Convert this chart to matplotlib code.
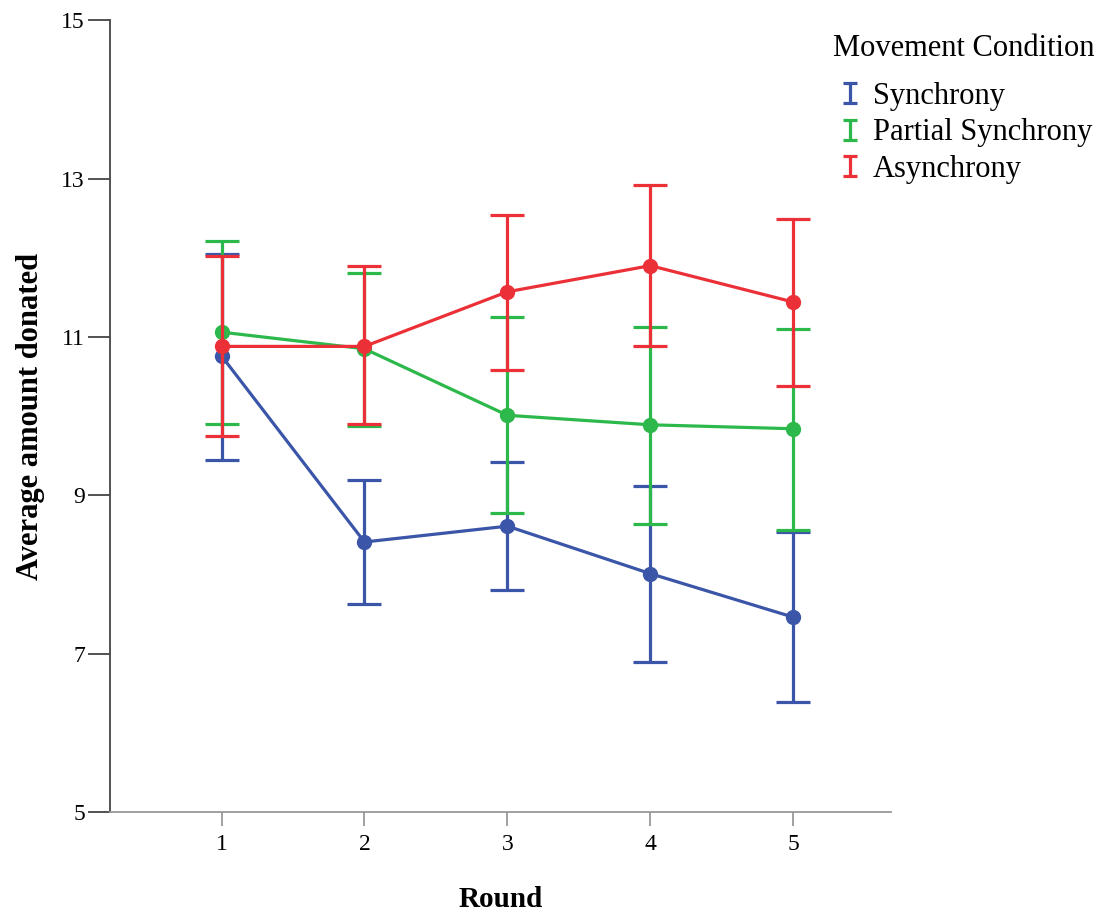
import numpy as np
import matplotlib
matplotlib.use("Agg")
import matplotlib.pyplot as plt
from matplotlib.path import Path
from matplotlib.lines import Line2D

plt.rcParams['font.family'] = ['Liberation Serif', 'DejaVu Serif']

# ---------------------------------------------------------
# Data
# ---------------------------------------------------------
rounds = [1, 2, 3, 4, 5]
conditions = ["Synchrony", "Partial Synchrony", "Asynchrony"]
colors = ["#3b56a8", "#2db84b", "#ec3038"]

sync_mean = [10.76, 8.41, 8.61, 8.01, 7.46]
sync_upper = [12.05, 9.19, 9.42, 9.12, 8.54]
sync_lower = [9.45, 7.63, 7.80, 6.90, 6.39]

partial_mean = [11.06, 10.85, 10.01, 9.89, 9.84]
partial_upper = [12.21, 11.81, 11.25, 11.13, 11.10]
partial_lower = [9.90, 9.88, 8.78, 8.64, 8.56]

async_mean = [10.88, 10.88, 11.57, 11.90, 11.44]
async_upper = [12.02, 11.89, 12.54, 12.92, 12.49]
async_lower = [9.75, 9.90, 10.58, 10.88, 10.38]

means = [sync_mean, partial_mean, async_mean]
uppers = [sync_upper, partial_upper, async_upper]
lowers = [sync_lower, partial_lower, async_lower]

# ---------------------------------------------------------
# Plot
# ---------------------------------------------------------
fig = plt.figure(figsize=(11.01, 9.17), dpi=100)
ax = fig.add_axes([0.0999, 0.1145, 0.709, 0.8635])

for i in range(3):
    m = np.array(means[i])
    yerr = [m - np.array(lowers[i]), np.array(uppers[i]) - m]
    ax.errorbar(rounds, m, yerr=yerr, fmt='-o', color=colors[i],
                lw=2.3, ms=10, elinewidth=2.3, capsize=12.5, capthick=2.3,
                zorder=2 + i)

# "I"-shaped legend marker (error bar with caps)
i_marker = Path(
    [(-0.7, -1), (0.7, -1), (0, -1), (0, 1), (-0.7, 1), (0.7, 1)],
    [Path.MOVETO, Path.LINETO, Path.MOVETO, Path.LINETO,
     Path.MOVETO, Path.LINETO]
)
handles = [Line2D([], [], ls='none', marker=i_marker, ms=15,
                  mec=c, mfc='none', mew=2.3) for c in colors]

fig.text(0.7566, 0.947, "Movement Condition", fontsize=22,
         ha='left', va='center')
fig.legend(handles, conditions,
           loc="upper left", bbox_to_anchor=(0.7584, 0.911),
           frameon=False, fontsize=22,
           handlelength=1.0, handletextpad=0.25, labelspacing=0.25,
           borderaxespad=0, borderpad=0)

ax.set_xlim(0.22, 5.68)
ax.set_ylim(5, 15)
ax.set_xticks(rounds)
ax.set_yticks([5, 7, 9, 11, 13, 15])

ax.spines['top'].set_visible(False)
ax.spines['right'].set_visible(False)
ax.spines['left'].set_color('#444444')
ax.spines['bottom'].set_color('#999999')
ax.spines['left'].set_linewidth(1.3)
ax.spines['bottom'].set_linewidth(1.3)

ax.tick_params(axis='y', length=16, width=1.3, color='#444444',
               labelsize=17, pad=2)
ax.tick_params(axis='x', length=10, width=1.3, color='#999999',
               labelsize=17, pad=6)

ax.set_xlabel("Round", fontsize=21, fontweight='bold', labelpad=22)
ax.set_ylabel("Average amount donated", fontsize=22, fontweight='bold',
              labelpad=12)

fig.savefig("out.png", dpi=100)
